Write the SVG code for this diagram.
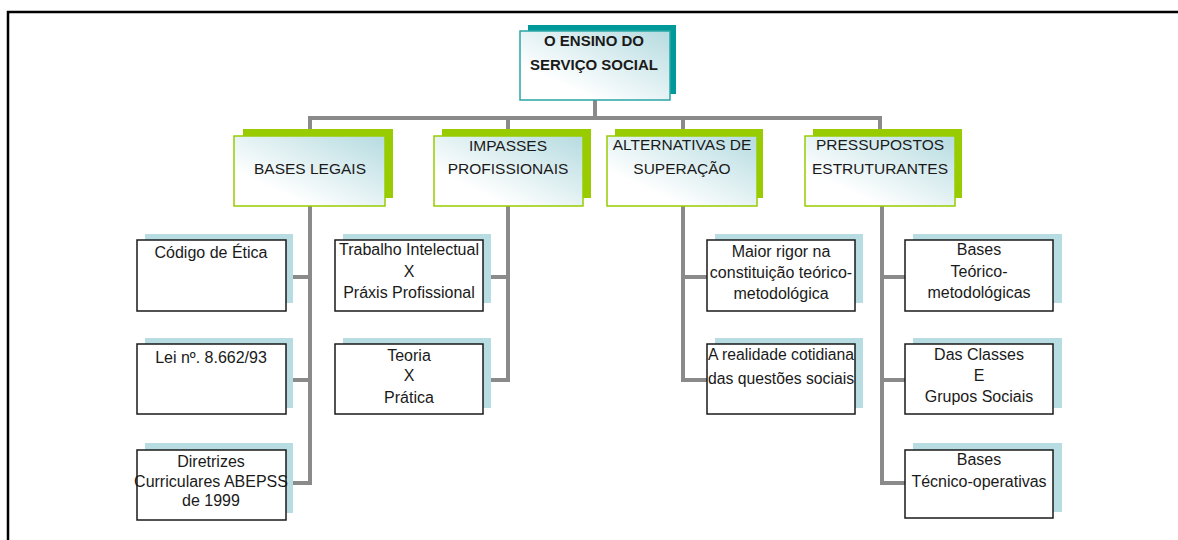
<svg xmlns="http://www.w3.org/2000/svg" width="1178" height="540" viewBox="0 0 1178 540">
<defs>
<linearGradient id="g" x1="0" y1="1" x2="1" y2="0">
<stop offset="0.25" stop-color="#ffffff"/>
<stop offset="1" stop-color="#b5dbe0"/>
</linearGradient>
<style>
.t{font-family:"Liberation Sans",Arial,sans-serif;fill:#1a1a1a;text-anchor:middle}
.top{font-size:15px;font-weight:bold}
.l1{font-size:15.5px}
.lf{font-size:16px}
.sT{fill:#009999}
.fT{fill:url(#g);stroke:#2aa5a5;stroke-width:1.5}
.sG{fill:#99cc00}
.fG{fill:url(#g);stroke:#99cc00;stroke-width:1.5}
.sB{fill:#b7dde2}
.fB{fill:#ffffff;stroke:#1a1a1a;stroke-width:1.5}
.c{fill:none;stroke:#8a8a8a;stroke-width:4}
</style>
</defs>
<rect width="1178" height="540" fill="#ffffff"/>
<path d="M8 540 V12 H1178" fill="none" stroke="#000" stroke-width="2.5"/>
<g id="connectors">
<path class="c" d="M595 100 V118 M310 130 V118 H880 V130 M508 118 V130 M683 118 V130"/>
<path class="c" d="M310 206 V483 H292 M292 277 H310 M292 380 H310"/>
<path class="c" d="M508 206 V380 H490 M490 277 H508"/>
<path class="c" d="M683 206 V380 H707 M683 277 H707"/>
<path class="c" d="M882 206 V483 H905 M882 277 H905 M882 380 H905"/>
</g>
<g id="n-top">
<rect class="sT" x="528" y="25" width="148" height="69"/>
<rect class="fT" x="520" y="31" width="150" height="69"/>
<text class="t top" x="594" y="46">O ENSINO DO</text>
<text class="t top" x="594" y="70">SERVIÇO SOCIAL</text>
</g>
<g id="n-bases-legais">
<rect class="sG" x="243" y="129" width="150" height="69"/>
<rect class="fG" x="234" y="136" width="151" height="70"/>
<text class="t l1" x="310" y="174">BASES LEGAIS</text>
</g>
<g id="n-impasses">
<rect class="sG" x="442" y="129" width="149" height="69"/>
<rect class="fG" x="434" y="136" width="149" height="70"/>
<text class="t l1" x="508" y="151">IMPASSES</text>
<text class="t l1" x="508" y="174">PROFISSIONAIS</text>
</g>
<g id="n-alternativas">
<rect class="sG" x="615" y="129" width="148" height="69"/>
<rect class="fG" x="607" y="136" width="150" height="70"/>
<text class="t l1" x="682" y="150">ALTERNATIVAS DE</text>
<text class="t l1" x="682" y="174">SUPERAÇÃO</text>
</g>
<g id="n-pressupostos">
<rect class="sG" x="813" y="129" width="149" height="69"/>
<rect class="fG" x="805" y="136" width="150" height="70"/>
<text class="t l1" x="880" y="150">PRESSUPOSTOS</text>
<text class="t l1" x="880" y="174">ESTRUTURANTES</text>
</g>
<g id="n-codigo">
<rect class="sB" x="145" y="234" width="148" height="69"/>
<rect class="fB" x="137" y="240" width="149" height="71"/>
<text class="t lf" x="211" y="258">Código de Ética</text>
</g>
<g id="n-lei">
<rect class="sB" x="145" y="338" width="148" height="70"/>
<rect class="fB" x="137" y="344" width="149" height="70"/>
<text class="t lf" x="211" y="363">Lei nº. 8.662/93</text>
</g>
<g id="n-diretrizes">
<rect class="sB" x="145" y="443" width="148" height="70"/>
<rect class="fB" x="137" y="450" width="149" height="70"/>
<text class="t lf" x="211" y="467">Diretrizes</text>
<text class="t lf" x="211" y="487">Curriculares ABEPSS</text>
<text class="t lf" x="211" y="506">de 1999</text>
</g>
<g id="n-trabalho">
<rect class="sB" x="343" y="234" width="148" height="69"/>
<rect class="fB" x="335" y="240" width="148" height="71"/>
<text class="t lf" x="409" y="255">Trabalho Intelectual</text>
<text class="t lf" x="409" y="277">X</text>
<text class="t lf" x="409" y="298">Práxis Profissional</text>
</g>
<g id="n-teoria">
<rect class="sB" x="343" y="338" width="148" height="70"/>
<rect class="fB" x="335" y="344" width="148" height="70"/>
<text class="t lf" x="409" y="361">Teoria</text>
<text class="t lf" x="409" y="381">X</text>
<text class="t lf" x="409" y="403">Prática</text>
</g>
<g id="n-maior-rigor">
<rect class="sB" x="715" y="234" width="148" height="69"/>
<rect class="fB" x="707" y="240" width="148" height="71"/>
<text class="t lf" x="781" y="257">Maior rigor na</text>
<text class="t lf" x="781" y="278">constituição teórico-</text>
<text class="t lf" x="781" y="299">metodológica</text>
</g>
<g id="n-realidade">
<rect class="sB" x="715" y="338" width="148" height="70"/>
<rect class="fB" x="707" y="344" width="148" height="70"/>
<text class="t lf" x="781" y="360" textLength="146" lengthAdjust="spacingAndGlyphs">A realidade cotidiana</text>
<text class="t lf" x="781" y="384" textLength="146" lengthAdjust="spacingAndGlyphs">das questões sociais</text>
</g>
<g id="n-bases-teorico">
<rect class="sB" x="913" y="234" width="149" height="69"/>
<rect class="fB" x="905" y="240" width="148" height="71"/>
<text class="t lf" x="979" y="255">Bases</text>
<text class="t lf" x="979" y="277">Teórico-</text>
<text class="t lf" x="979" y="298">metodológicas</text>
</g>
<g id="n-classes">
<rect class="sB" x="913" y="338" width="149" height="70"/>
<rect class="fB" x="905" y="344" width="148" height="70"/>
<text class="t lf" x="979" y="360">Das Classes</text>
<text class="t lf" x="979" y="381">E</text>
<text class="t lf" x="979" y="402">Grupos Sociais</text>
</g>
<g id="n-bases-tecnico">
<rect class="sB" x="913" y="443" width="149" height="69"/>
<rect class="fB" x="905" y="450" width="148" height="68"/>
<text class="t lf" x="979" y="465">Bases</text>
<text class="t lf" x="979" y="487">Técnico-operativas</text>
</g>
</svg>
